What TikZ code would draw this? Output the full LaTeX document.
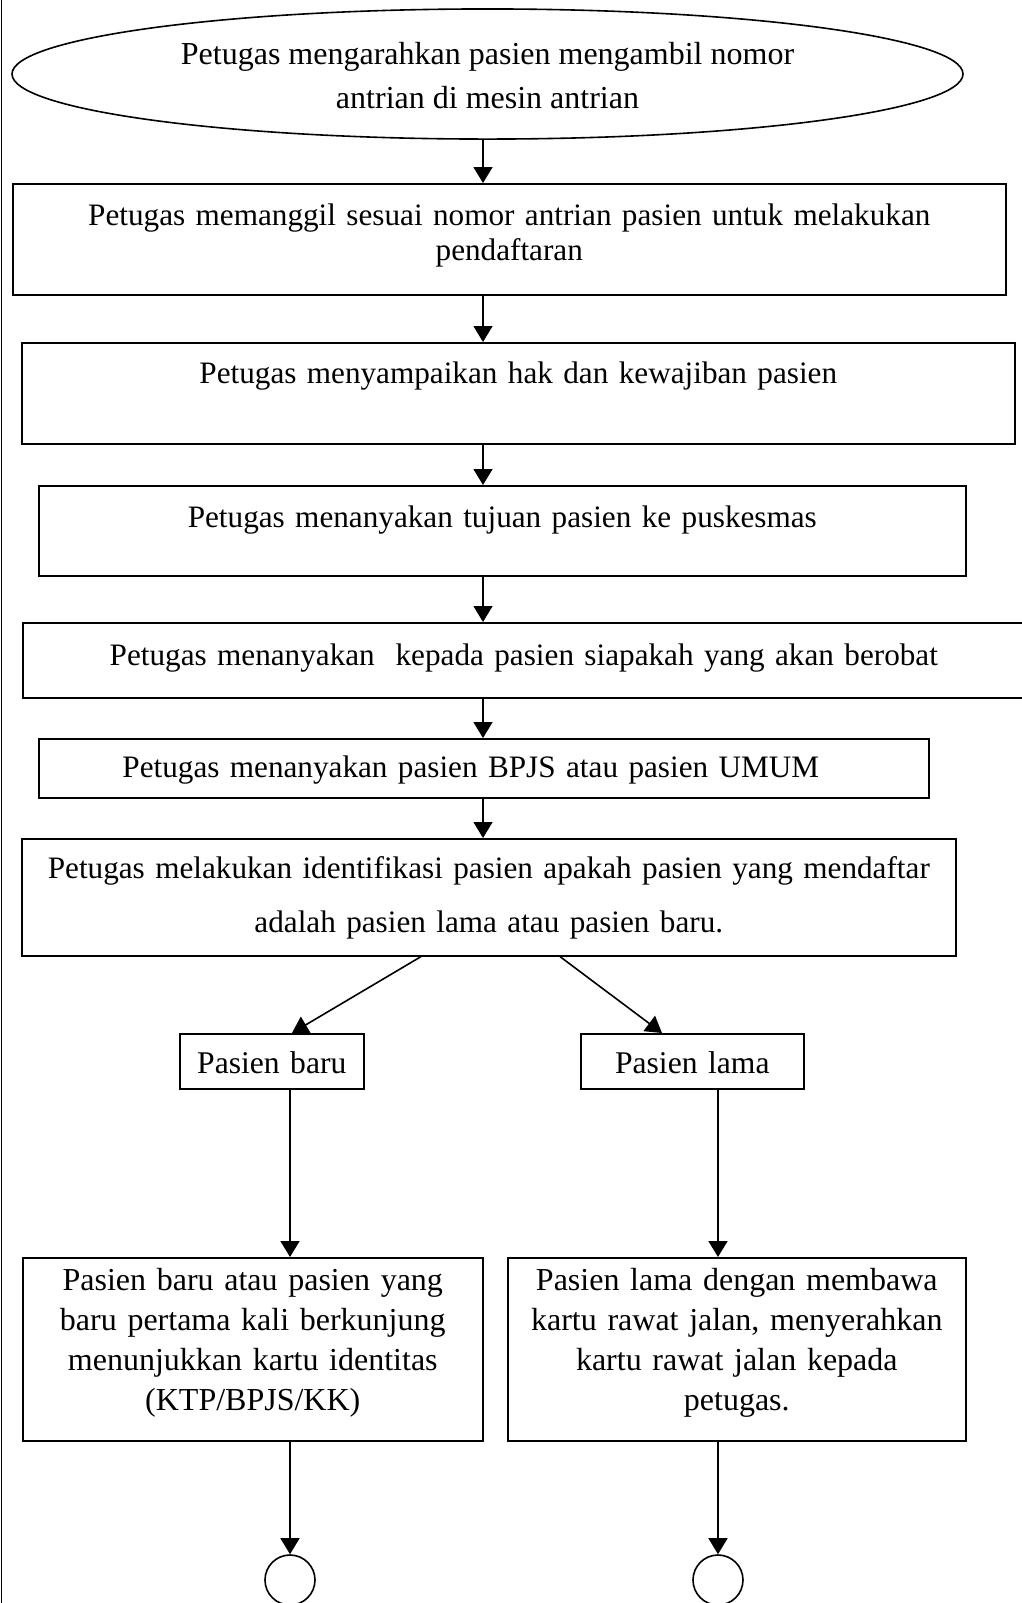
\documentclass[tikz,border=0pt]{standalone}
\usepackage{fontspec}
\setmainfont{Liberation Serif}
\usepackage{tikz}
\usetikzlibrary{arrows.meta, shapes.geometric}
\newlength{\px}
\setlength{\px}{0.5pt}

\begin{document}
\begin{tikzpicture}[x=0.5pt, y=-0.5pt,
  box/.style={draw, line width=0.8pt, inner sep=0pt, anchor=north west, align=center},
  txt/.style 2 args={font=\fontsize{#1}{#2}\selectfont},
  arr/.style={-{Triangle[length=8pt, width=9.5pt]}, line width=0.8pt}]
  \useasboundingbox (0,0) rectangle (1022,1603);
  \draw[line width=0.6pt] (1.5,0) -- (1.5,1603);

  % Start
  \node[draw, ellipse, line width=0.8pt, inner sep=0pt, minimum width=951\px, minimum height=128\px,
    align=center, txt={16pt}{22pt}, text height=40pt, text depth=6pt] (start) at (487.5,74)
    {Petugas mengarahkan pasien mengambil nomor\\ antrian di mesin antrian};

  % Steps
  \node[box, txt={15.6pt}{17.5pt}, text width=993\px, minimum width=993\px, text height=42\px, text depth=69\px] (panggil) at (12,183)
    {Petugas memanggil sesuai nomor antrian pasien untuk melakukan\\ pendaftaran};
  \node[box, txt={15.6pt}{17.5pt}, text width=993\px, minimum width=993\px, text height=41\px, text depth=60\px] (hak) at (21,342)
    {Petugas menyampaikan hak dan kewajiban pasien};
  \node[box, txt={15.6pt}{17.5pt}, text width=927\px, minimum width=927\px, text height=42\px, text depth=48\px] (tujuan) at (38,485)
    {Petugas menanyakan tujuan pasien ke puskesmas};
  \node[box, txt={15.6pt}{17.5pt}, text width=1002\px, minimum width=1002\px, text height=43\px, text depth=32\px] (siapa) at (22,622)
    {Petugas menanyakan~ kepada pasien siapakah yang akan berobat};
  \node[box, txt={15.6pt}{17.5pt}, text width=890\px, minimum width=890\px, text height=39\px, text depth=20\px] (jenis) at (38,738)
    {Petugas menanyakan pasien BPJS atau pasien UMUM\rule{13pt}{0pt}};
  \node[box, txt={15.6pt}{27pt}, text width=934\px, minimum width=934\px, text height=40\px, text depth=77\px] (identifikasi) at (21,838)
    {Petugas melakukan identifikasi pasien apakah pasien yang mendaftar\\ adalah pasien lama atau pasien baru.};

  % Branches
  \node[box, txt={15.8pt}{17.5pt}, text width=184\px, minimum width=184\px, text height=40\px, text depth=15\px] (baru) at (179,1033)
    {Pasien baru};
  \node[box, txt={15.8pt}{17.5pt}, text width=223\px, minimum width=223\px, text height=40\px, text depth=15\px] (lama) at (580,1033)
    {Pasien lama};
  \node[box, txt={16pt}{20pt}, text width=460\px, minimum width=460\px, text height=33\px, text depth=150\px] (dokbaru) at (22,1257)
    {Pasien baru atau pasien yang\\ baru pertama kali berkunjung\\ menunjukkan kartu identitas\\ (KTP/BPJS/KK)};
  \node[box, txt={16pt}{20pt}, text width=458\px, minimum width=458\px, text height=33\px, text depth=150\px] (doklama) at (507,1257)
    {Pasien lama dengan membawa\\ kartu rawat jalan, menyerahkan\\ kartu rawat jalan kepada\\ petugas.};

  % Connectors
  \node[draw, circle, line width=0.8pt, inner sep=0pt, minimum size=50\px] (endbaru) at (290,1580) {};
  \node[draw, circle, line width=0.8pt, inner sep=0pt, minimum size=50\px] (endlama) at (718,1580) {};

  % Arrows
  \coordinate (ax) at (483,0);
  \coordinate (lx) at (290,0);
  \coordinate (rx) at (718,0);
  \coordinate (dl) at (421,0);
  \coordinate (dr) at (560,0);
  \coordinate (el) at (292,0);
  \coordinate (er) at (662,0);
  \foreach \a/\b in {start/panggil, panggil/hak, hak/tujuan, tujuan/siapa, siapa/jenis, jenis/identifikasi}{
    \draw[arr] (\a.south -| ax) -- (\b.north -| ax);
  }
  \draw[arr] (identifikasi.south -| dl) -- (baru.north -| el);
  \draw[arr] (identifikasi.south -| dr) -- (lama.north -| er);
  \draw[arr] (baru.south -| lx) -- (dokbaru.north -| lx);
  \draw[arr] (lama.south -| rx) -- (doklama.north -| rx);
  \draw[arr] (dokbaru.south -| lx) -- (endbaru.north);
  \draw[arr] (doklama.south -| rx) -- (endlama.north);
\end{tikzpicture}
\end{document}
